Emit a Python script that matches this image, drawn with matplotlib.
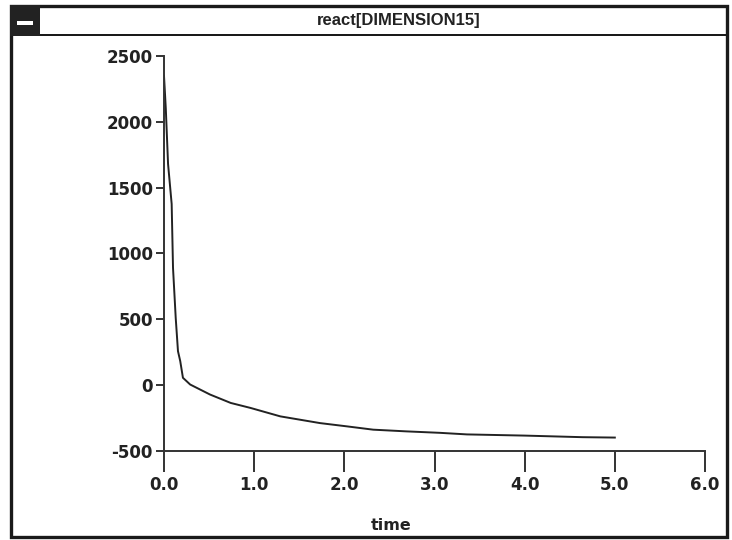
import matplotlib.pyplot as plt
from matplotlib.patches import Rectangle

plt.rcParams['axes.unicode_minus'] = False

# valores
tempo = [0.0, 0.02, 0.045, 0.085, 0.10, 0.13, 0.155, 0.18, 0.21, 0.29, 0.51,
         0.74, 0.96, 1.29, 1.73, 2.03, 2.32, 2.69, 3.06, 3.36, 4.0, 4.64, 5.0]
react = [2350, 2100, 1680, 1376, 890, 510, 258, 183, 56, 5, -71,
         -135, -173, -237, -288, -313, -338, -351, -362, -374, -383, -395, -398]

x_ticks = [0, 1, 2, 3, 4, 5, 6]
x_labels = ['0.0', '1.0', '2.0', '3.0', '4.0', '5.0', '6.0']
y_ticks = [-500, 0, 500, 1000, 1500, 2000, 2500]
titulo = 'react[DIMENSION15]'

W, H = 732, 540
fig = plt.figure(figsize=(W / 100, H / 100), dpi=100)

def px(x0, y0, x1, y1, **kw):
    # retangulo em pixels da imagem (origem no topo)
    fig.patches.append(Rectangle((x0 / W, 1 - y1 / H), (x1 - x0) / W, (y1 - y0) / H,
                                 transform=fig.transFigure, figure=fig, **kw))

# moldura da janela
px(11, 6, 727, 537, fill=False, edgecolor='#1a1a1a', linewidth=2.4)
px(11, 34, 727, 36, facecolor='#1a1a1a', edgecolor='none')
px(10, 5, 40, 36, facecolor='#222222', edgecolor='none')
px(17, 21, 33, 24.5, facecolor='white', edgecolor='none')
fig.text(399 / W, 1 - 20 / H, titulo, ha='center', va='center',
         fontsize=12, fontweight='bold', family='Liberation Sans', color='#222222')

ax = fig.add_axes([164 / W, 1 - 451 / H, (705 - 164) / W, (451 - 56) / H])
ax.plot(tempo, react, color='#222222', linewidth=1.4)
ax.set_xlim(0, 6)
ax.set_ylim(-500, 2500)
ax.set_xticks(x_ticks)
ax.set_xticklabels(x_labels)
ax.set_yticks(y_ticks)
for s in ['top', 'right']:
    ax.spines[s].set_visible(False)
for s in ['left', 'bottom']:
    ax.spines[s].set_linewidth(1.4)
    ax.spines[s].set_color('#333333')
ax.tick_params(axis='x', direction='out', length=15, width=1.4, pad=3, color='#333333')
ax.tick_params(axis='y', direction='out', length=6, width=1.4, pad=2, color='#333333')
for lab in ax.get_xticklabels() + ax.get_yticklabels():
    lab.set_fontweight('bold')
    lab.set_fontsize(12)
    lab.set_color('#222222')

# rotulo do eixo x, na posicao da janela original
fig.text(391 / W, 1 - 526 / H, 'time', ha='center', va='center',
         fontsize=11.5, fontweight='bold', color='#222222')

fig.savefig('out.png', dpi=100)
